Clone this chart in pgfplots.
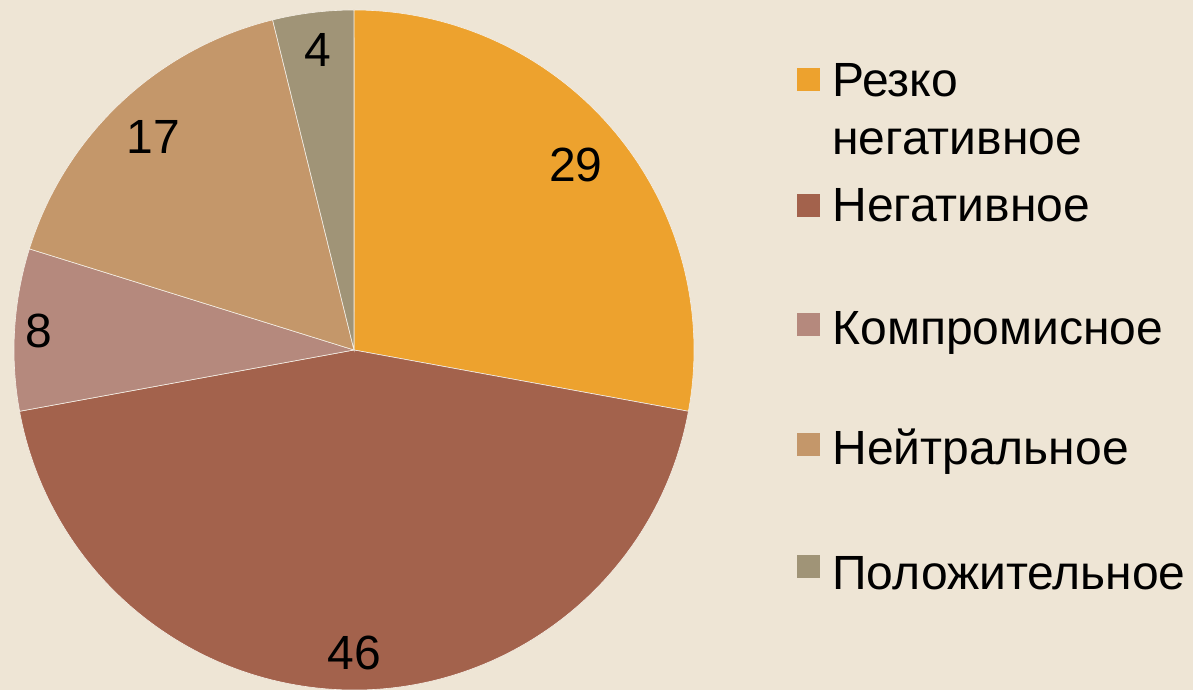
\documentclass[border=0pt]{standalone}
\usepackage{pgfplots}
\pgfplotsset{compat=1.18}
\usepackage{fontspec}
\setmainfont{Liberation Sans}
\definecolor{bgc}{HTML}{EEE5D5}
\definecolor{cA}{HTML}{EDA22E}
\definecolor{cB}{HTML}{A3624C}
\definecolor{cC}{HTML}{B5897D}
\definecolor{cD}{HTML}{C4976A}
\definecolor{cE}{HTML}{A09477}
% values
\newcommand\vA{29}
\newcommand\vB{46}
\newcommand\vC{8}
\newcommand\vD{17}
\newcommand\vE{4}
\begin{document}
\begin{tikzpicture}
\fill[bgc] (0pt,0pt) rectangle (596.5pt,345pt);
\useasboundingbox (0pt,0pt) rectangle (596.5pt,345pt);
\pgfmathsetmacro\tot{\vA+\vB+\vC+\vD+\vE}
\pgfmathsetmacro\aA{90}
\pgfmathsetmacro\aB{\aA-\vA/\tot*360}
\pgfmathsetmacro\aC{\aB-\vB/\tot*360}
\pgfmathsetmacro\aD{\aC-\vC/\tot*360}
\pgfmathsetmacro\aE{\aD-\vD/\tot*360}
\pgfmathsetmacro\aF{\aE-\vE/\tot*360}
\begin{axis}[at={(177pt,170pt)},anchor=center,width=340pt,height=340pt,scale only axis,
  xmin=-1,xmax=1,ymin=-1,ymax=1,hide axis,clip=false]
\fill[cA,draw=bgc!60!white,line width=0.3pt] (axis cs:0,0) -- (axis cs:{cos(\aA)},{sin(\aA)}) arc[start angle=\aA,end angle=\aB,radius=170pt] -- cycle;
\fill[cB,draw=bgc!60!white,line width=0.3pt] (axis cs:0,0) -- (axis cs:{cos(\aB)},{sin(\aB)}) arc[start angle=\aB,end angle=\aC,radius=170pt] -- cycle;
\fill[cC,draw=bgc!60!white,line width=0.3pt] (axis cs:0,0) -- (axis cs:{cos(\aC)},{sin(\aC)}) arc[start angle=\aC,end angle=\aD,radius=170pt] -- cycle;
\fill[cD,draw=bgc!60!white,line width=0.3pt] (axis cs:0,0) -- (axis cs:{cos(\aD)},{sin(\aD)}) arc[start angle=\aD,end angle=\aE,radius=170pt] -- cycle;
\fill[cE,draw=bgc!60!white,line width=0.3pt] (axis cs:0,0) -- (axis cs:{cos(\aE)},{sin(\aE)}) arc[start angle=\aE,end angle=\aF,radius=170pt] -- cycle;
\node[font=\fontsize{24}{28}\selectfont] at (axis cs:{0.85*cos((\aA+\aB)/2)},{0.85*sin((\aA+\aB)/2)}) {\vA};
\node[font=\fontsize{24}{28}\selectfont] at (axis cs:{0.89*cos((\aB+\aC)/2)},{0.89*sin((\aB+\aC)/2)}) {\vB};
\node[font=\fontsize{24}{28}\selectfont] at (axis cs:{0.93*cos((\aC+\aD)/2)},{0.93*sin((\aC+\aD)/2)}) {\vC};
\node[font=\fontsize{24}{28}\selectfont] at (axis cs:{0.86*cos((\aD+\aE)/2)},{0.86*sin((\aD+\aE)/2)}) {\vD};
\node[font=\fontsize{24}{28}\selectfont] at (axis cs:{0.89*cos((\aE+\aF)/2)},{0.89*sin((\aE+\aF)/2)}) {\vE};
\end{axis}
% legend
\begin{scope}[every node/.style={anchor=base west,inner sep=0pt,font=\fontsize{24}{28}\selectfont}]
\fill[cA] (398.5pt,299.5pt) rectangle ++(11.5pt,11.5pt);
\node at (416pt,296.5pt) {Резко};
\node at (416pt,267.5pt) {негативное};
\fill[cB] (398.5pt,236.5pt) rectangle ++(11.5pt,11.5pt);
\node at (416pt,234pt) {Негативное};
\fill[cC] (398.5pt,177pt) rectangle ++(11.5pt,11.5pt);
\node at (416pt,172.5pt) {Компромисное};
\fill[cD] (398.5pt,117pt) rectangle ++(11.5pt,11.5pt);
\node at (416pt,112.5pt) {Нейтральное};
\fill[cE] (398.5pt,56pt) rectangle ++(11.5pt,11.5pt);
\node at (416pt,50pt) {Положительное};
\end{scope}
\end{tikzpicture}
\end{document}
